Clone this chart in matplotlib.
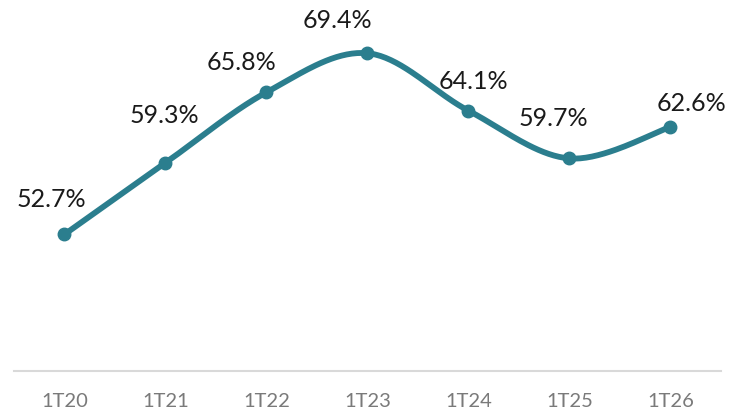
import numpy as np
import matplotlib.pyplot as plt

periods = ['1T20', '1T21', '1T22', '1T23', '1T24', '1T25', '1T26']
ratio = [52.7, 59.3, 65.8, 69.4, 64.1, 59.7, 62.6]

# label offsets in pixels (dx, dy) relative to each point
label_offsets = [(-13, 36), (-1, 48), (-25, 31), (-30, 34), (5, 30), (-16, 41), (21, 24)]

LINE = '#2B7E8E'


def smooth(xs, ys, n=40):
    # Excel-style smoothed line: cubic bezier with catmull-rom control points
    pts = np.column_stack([xs, ys]).astype(float)
    out = [pts[0]]
    for i in range(len(pts) - 1):
        p0 = pts[i - 1] if i > 0 else pts[i]
        p1 = pts[i]
        p2 = pts[i + 1]
        p3 = pts[i + 2] if i + 2 < len(pts) else pts[i + 1]
        c1 = p1 + (p2 - p0) / 6
        c2 = p2 - (p3 - p1) / 6
        t = np.linspace(0, 1, n)[1:, None]
        seg = (1 - t) ** 3 * p1 + 3 * (1 - t) ** 2 * t * c1 + 3 * (1 - t) * t ** 2 * c2 + t ** 3 * p2
        out.extend(seg)
    out = np.array(out)
    return out[:, 0], out[:, 1]


plt.rcParams['font.family'] = ['Lato', 'DejaVu Sans']

fig = plt.figure(figsize=(7.29, 4.14), dpi=100)
ax = fig.add_axes([14 / 729, 42 / 414, 707 / 729, 372 / 414])

x = np.arange(len(periods))
sx, sy = smooth(x, ratio)
ax.plot(sx, sy, color=LINE, lw=4.2, solid_capstyle='round', zorder=2)
ax.plot(x, ratio, 'o', color=LINE, ms=9, zorder=3)

for xi, v, (dx, dy) in zip(x, ratio, label_offsets):
    ax.annotate(f'{v:.1f}%', (xi, v), xytext=(dx * 0.72, dy * 0.72), textcoords='offset points',
                ha='center', va='center', fontsize=18, color='#1a1a1a')

ax.set_xlim(-0.5, 6.5)
ax.set_ylim(40.1, 74.4)
ax.set_xticks(x)
ax.set_xticklabels(periods, fontsize=14.5, color='#7a7a7a')
ax.tick_params(axis='x', length=0, pad=15)
ax.set_yticks([])
for s in ['left', 'right', 'top']:
    ax.spines[s].set_visible(False)
ax.spines['bottom'].set_color('#d9d9d9')
ax.spines['bottom'].set_linewidth(1.5)

fig.savefig('out.png', dpi=100)
